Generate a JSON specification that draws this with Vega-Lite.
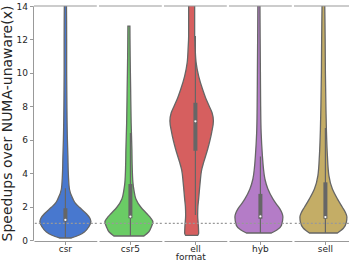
{
  "$schema": "https://vega.github.io/schema/vega-lite/v6.json",
  "padding": {"left": 0, "top": 2, "right": 2, "bottom": 0},
  "title": {"text": "format", "orient": "bottom", "anchor": "middle", "frame": "bounds", "dx": 12, "fontSize": 9, "fontWeight": "normal", "color": "#262626", "font": "DejaVu Sans", "offset": -1},
  "config": {
    "view": {"stroke": null},
    "font": "DejaVu Sans",
    "axis": {"domainColor": "#999999", "tickColor": "#999999", "labelColor": "#262626", "titleColor": "#262626", "labelFontSize": 9, "tickSize": 3.5, "grid": false, "titleFontWeight": "normal", "labelFont": "DejaVu Sans", "titleFont": "DejaVu Sans", "labelOverlap": false},
    "axisY": {"tickCount": 8, "labelOverlap": false}
  },
  "data": {"values": [
    {"format": "csr", "kind": "v", "y": 0.12, "density": 0.24},
    {"format": "csr", "kind": "v", "y": 0.3, "density": 0.56},
    {"format": "csr", "kind": "v", "y": 0.48, "density": 0.76},
    {"format": "csr", "kind": "v", "y": 0.8, "density": 0.94},
    {"format": "csr", "kind": "v", "y": 1.11, "density": 1.02},
    {"format": "csr", "kind": "v", "y": 1.35, "density": 0.96},
    {"format": "csr", "kind": "v", "y": 1.57, "density": 0.84},
    {"format": "csr", "kind": "v", "y": 1.96, "density": 0.56},
    {"format": "csr", "kind": "v", "y": 2.2, "density": 0.4},
    {"format": "csr", "kind": "v", "y": 2.46, "density": 0.3},
    {"format": "csr", "kind": "v", "y": 3.05, "density": 0.16},
    {"format": "csr", "kind": "v", "y": 3.87, "density": 0.12},
    {"format": "csr", "kind": "v", "y": 5, "density": 0.1},
    {"format": "csr", "kind": "v", "y": 6, "density": 0.08},
    {"format": "csr", "kind": "v", "y": 8, "density": 0.06},
    {"format": "csr", "kind": "v", "y": 10, "density": 0.05},
    {"format": "csr", "kind": "v", "y": 12, "density": 0.05},
    {"format": "csr", "kind": "v", "y": 14.5, "density": 0.04},
    {"format": "csr5", "kind": "v", "y": 0.24, "density": 0.6},
    {"format": "csr5", "kind": "v", "y": 0.48, "density": 0.79},
    {"format": "csr5", "kind": "v", "y": 0.8, "density": 0.9},
    {"format": "csr5", "kind": "v", "y": 1.07, "density": 0.96},
    {"format": "csr5", "kind": "v", "y": 1.3, "density": 0.88},
    {"format": "csr5", "kind": "v", "y": 1.57, "density": 0.72},
    {"format": "csr5", "kind": "v", "y": 1.96, "density": 0.48},
    {"format": "csr5", "kind": "v", "y": 2.46, "density": 0.28},
    {"format": "csr5", "kind": "v", "y": 3.0, "density": 0.2},
    {"format": "csr5", "kind": "v", "y": 3.45, "density": 0.16},
    {"format": "csr5", "kind": "v", "y": 4.5, "density": 0.13},
    {"format": "csr5", "kind": "v", "y": 5.4, "density": 0.12},
    {"format": "csr5", "kind": "v", "y": 7, "density": 0.09},
    {"format": "csr5", "kind": "v", "y": 9, "density": 0.07},
    {"format": "csr5", "kind": "v", "y": 11, "density": 0.05},
    {"format": "csr5", "kind": "v", "y": 12.8, "density": 0.04},
    {"format": "ell", "kind": "v", "y": 0.28, "density": 0.24},
    {"format": "ell", "kind": "v", "y": 0.4, "density": 0.28},
    {"format": "ell", "kind": "v", "y": 0.8, "density": 0.27},
    {"format": "ell", "kind": "v", "y": 1.47, "density": 0.24},
    {"format": "ell", "kind": "v", "y": 2.0, "density": 0.25},
    {"format": "ell", "kind": "v", "y": 2.46, "density": 0.28},
    {"format": "ell", "kind": "v", "y": 3.45, "density": 0.34},
    {"format": "ell", "kind": "v", "y": 4.2, "density": 0.4},
    {"format": "ell", "kind": "v", "y": 4.64, "density": 0.48},
    {"format": "ell", "kind": "v", "y": 5.43, "density": 0.64},
    {"format": "ell", "kind": "v", "y": 6.43, "density": 0.8},
    {"format": "ell", "kind": "v", "y": 7.12, "density": 0.87},
    {"format": "ell", "kind": "v", "y": 7.6, "density": 0.82},
    {"format": "ell", "kind": "v", "y": 8.02, "density": 0.7},
    {"format": "ell", "kind": "v", "y": 8.5, "density": 0.56},
    {"format": "ell", "kind": "v", "y": 9.0, "density": 0.44},
    {"format": "ell", "kind": "v", "y": 9.8, "density": 0.28},
    {"format": "ell", "kind": "v", "y": 10.6, "density": 0.18},
    {"format": "ell", "kind": "v", "y": 11.5, "density": 0.14},
    {"format": "ell", "kind": "v", "y": 12.2, "density": 0.12},
    {"format": "ell", "kind": "v", "y": 13, "density": 0.12},
    {"format": "ell", "kind": "v", "y": 14.5, "density": 0.12},
    {"format": "hyb", "kind": "v", "y": 0.42, "density": 0.5},
    {"format": "hyb", "kind": "v", "y": 0.6, "density": 0.72},
    {"format": "hyb", "kind": "v", "y": 0.87, "density": 0.9},
    {"format": "hyb", "kind": "v", "y": 1.37, "density": 0.96},
    {"format": "hyb", "kind": "v", "y": 1.86, "density": 0.84},
    {"format": "hyb", "kind": "v", "y": 2.15, "density": 0.7},
    {"format": "hyb", "kind": "v", "y": 2.46, "density": 0.56},
    {"format": "hyb", "kind": "v", "y": 3.05, "density": 0.36},
    {"format": "hyb", "kind": "v", "y": 3.65, "density": 0.24},
    {"format": "hyb", "kind": "v", "y": 4.3, "density": 0.18},
    {"format": "hyb", "kind": "v", "y": 5.04, "density": 0.14},
    {"format": "hyb", "kind": "v", "y": 6.4, "density": 0.09},
    {"format": "hyb", "kind": "v", "y": 8, "density": 0.07},
    {"format": "hyb", "kind": "v", "y": 10, "density": 0.06},
    {"format": "hyb", "kind": "v", "y": 12, "density": 0.05},
    {"format": "hyb", "kind": "v", "y": 14.5, "density": 0.04},
    {"format": "sell", "kind": "v", "y": 0.42, "density": 0.56},
    {"format": "sell", "kind": "v", "y": 0.7, "density": 0.8},
    {"format": "sell", "kind": "v", "y": 1.07, "density": 0.92},
    {"format": "sell", "kind": "v", "y": 1.37, "density": 0.94},
    {"format": "sell", "kind": "v", "y": 1.65, "density": 0.88},
    {"format": "sell", "kind": "v", "y": 1.96, "density": 0.76},
    {"format": "sell", "kind": "v", "y": 2.46, "density": 0.56},
    {"format": "sell", "kind": "v", "y": 3.05, "density": 0.36},
    {"format": "sell", "kind": "v", "y": 3.85, "density": 0.22},
    {"format": "sell", "kind": "v", "y": 5.04, "density": 0.16},
    {"format": "sell", "kind": "v", "y": 6.6, "density": 0.12},
    {"format": "sell", "kind": "v", "y": 8, "density": 0.1},
    {"format": "sell", "kind": "v", "y": 10, "density": 0.08},
    {"format": "sell", "kind": "v", "y": 12, "density": 0.07},
    {"format": "sell", "kind": "v", "y": 14.5, "density": 0.05},
    {"format": "csr", "kind": "b", "lo": 0.12, "q1": 1.1, "med": 1.2, "q3": 1.9, "hi": 3.1},
    {"format": "csr5", "kind": "b", "lo": 0.24, "q1": 1.3, "med": 1.4, "q3": 3.35, "hi": 6.4},
    {"format": "ell", "kind": "b", "lo": 1.5, "q1": 5.34, "med": 7.1, "q3": 8.21, "hi": 12.2},
    {"format": "hyb", "kind": "b", "lo": 0.42, "q1": 1.27, "med": 1.41, "q3": 2.76, "hi": 5.0},
    {"format": "sell", "kind": "b", "lo": 0.42, "q1": 1.27, "med": 1.37, "q3": 3.45, "hi": 6.7}
  ]},
  "facet": {
    "column": {
      "field": "format", "type": "nominal",
      "sort": ["csr", "csr5", "ell", "hyb", "sell"],
      "header": {"title": null, "labelOrient": "bottom", "labelFontSize": 9, "labelColor": "#262626", "labelFont": "DejaVu Sans", "labelPadding": 0}
    }
  },
  "spacing": 0,
  "spec": {
    "width": 62.8,
    "height": 234,
    "layer": [
      {
        "transform": [{"filter": "datum.kind === 'v'"}],
        "mark": {"type": "area", "orient": "horizontal", "interpolate": "monotone", "stroke": "#666666", "strokeWidth": 1.3, "clip": true},
        "encoding": {
          "y": {"field": "y", "type": "quantitative", "scale": {"domain": [0, 14], "nice": false}, "axis": {"title": "Speedups over NUMA-unaware(x)", "titleFontSize": 14, "values": [0, 2, 4, 6, 8, 10, 12, 14], "tickCount": 8, "labelOverlap": false, "labelPadding": 2, "titlePadding": 2}},
          "x": {"field": "density", "type": "quantitative", "stack": "center", "scale": {"domain": [-0.118, 1.138], "nice": false, "zero": false}, "axis": {"title": null, "values": [0.51], "labels": false}},
          "color": {"field": "format", "type": "nominal", "scale": {"domain": ["csr", "csr5", "ell", "hyb", "sell"], "range": ["#4878CF", "#6ACC65", "#D65F5F", "#B47CC7", "#C4AD66"]}, "legend": null}
        }
      },
      {
        "transform": [{"filter": "datum.kind === 'b'"}],
        "mark": {"type": "rule", "color": "#999999", "strokeWidth": 1.2, "strokeDash": [2, 2]},
        "encoding": {"y": {"datum": 1, "type": "quantitative"}}
      },
      {
        "transform": [{"filter": "datum.kind === 'b'"}],
        "mark": {"type": "rule", "color": "#666666", "strokeWidth": 1.2},
        "encoding": {"x": {"datum": 0.51, "type": "quantitative"}, "y": {"field": "lo", "type": "quantitative"}, "y2": {"field": "hi"}}
      },
      {
        "transform": [{"filter": "datum.kind === 'b'"}],
        "mark": {"type": "rule", "color": "#666666", "strokeWidth": 4},
        "encoding": {"x": {"datum": 0.51, "type": "quantitative"}, "y": {"field": "q1", "type": "quantitative"}, "y2": {"field": "q3"}}
      },
      {
        "transform": [{"filter": "datum.kind === 'b'"}],
        "mark": {"type": "circle", "color": "white", "size": 5, "opacity": 1},
        "encoding": {"x": {"datum": 0.51, "type": "quantitative"}, "y": {"field": "med", "type": "quantitative"}}
      },
      {
        "transform": [{"filter": "datum.kind === 'b'"}],
        "mark": {"type": "rule", "color": "#999999", "strokeWidth": 1},
        "encoding": {"y": {"datum": 14, "type": "quantitative"}}
      },
      {
        "transform": [{"filter": "datum.kind === 'b' && datum.format === 'sell'"}],
        "mark": {"type": "rule", "color": "#999999", "strokeWidth": 1},
        "encoding": {"x": {"datum": 1.138, "type": "quantitative"}, "y": {"datum": 0, "type": "quantitative"}, "y2": {"datum": 14}}
      }
    ]
  }
}
